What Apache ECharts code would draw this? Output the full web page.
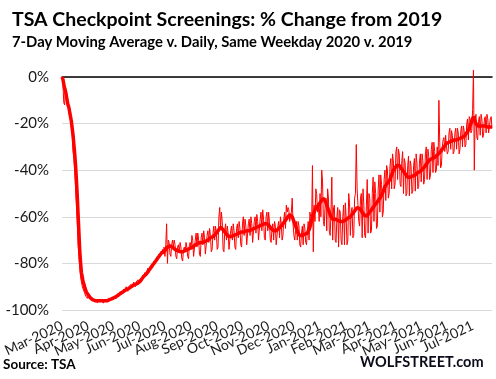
<!DOCTYPE html>
<html><head><meta charset="utf-8">
<script src="https://cdn.jsdelivr.net/npm/echarts@6/dist/echarts.min.js"></script>
<style>html,body{margin:0;padding:0;background:#fff}#c{width:496px;height:379px}</style>
</head><body><div id="c"></div>
<script>
// Dates: daily from 2020-03-01 to 2021-07-25
const startDate = [2020, 2, 1];
const monthNames = ['Jan','Feb','Mar','Apr','May','Jun','Jul','Aug','Sep','Oct','Nov','Dec'];
const yTicks = [-100, -80, -60, -40, -20, 0];

// Daily % change vs same weekday 2019 (thin line), by month
const dMar20 = [0,-3,-11,-12,-4,-6,-8,-11,-15,-17,-18,-22,-24,-32,-35,-40,-48,-55,-62,-72,-77,-82,-86,-88,-90,-91,-92,-93,-94,-94,-95];
const dApr20 = [-94,-95,-95,-95,-96,-96,-96,-96,-96,-96,-96,-97,-96,-96,-96,-96,-96,-96,-97,-96,-96,-96,-96,-96,-95,-95,-95,-95,-95,-95];
const dMay20 = [-95,-94,-94,-95,-94,-93,-93,-94,-92,-92,-93,-92,-91,-92,-91,-90,-91,-92,-90,-90,-90,-89,-90,-89,-88,-89,-90,-88,-88,-87,-88];
const dJun20 = [-87,-88,-87,-86,-85,-86,-84,-84,-85,-83,-82,-84,-82,-81,-82,-80,-81,-79,-80,-78,-79,-77,-78,-76,-77,-75,-76,-74,-76,-73];
const dJul20 = [-77,-72,-63,-80,-70,-71,-76,-77,-72,-70,-73,-70,-72,-77,-78,-73,-72,-75,-71,-73,-78,-79,-74,-73,-75,-71,-73,-77,-78,-72,-71];
const dAug20 = [-74,-68,-70,-77,-77,-70,-67,-73,-67,-70,-76,-77,-69,-67,-72,-66,-69,-76,-76,-68,-66,-71,-65,-68,-75,-74,-67,-64,-70,-64,-67];
const dSep20 = [-74,-73,-60,-56,-65,-58,-62,-74,-75,-66,-63,-70,-64,-67,-74,-74,-66,-64,-70,-63,-66,-73,-74,-65,-63,-69,-62,-65,-72,-73];
const dOct20 = [-63,-60,-68,-61,-64,-72,-72,-63,-61,-68,-60,-63,-71,-71,-62,-60,-67,-59,-62,-70,-70,-61,-58,-66,-57,-61,-69,-70,-60,-58,-66];
const dNov20 = [-58,-62,-70,-71,-65,-63,-70,-62,-64,-72,-72,-64,-62,-69,-60,-63,-70,-68,-61,-58,-65,-55,-58,-56,-57,-62,-62,-58,-52,-63];
const dDec20 = [-68,-70,-66,-62,-70,-62,-64,-72,-73,-67,-64,-72,-63,-65,-71,-72,-66,-62,-70,-58,-60,-64,-38,-75,-55,-62,-48,-50,-58,-55,-62];
const dJan21 = [-50,-60,-40,-45,-62,-64,-55,-52,-66,-48,-52,-66,-68,-58,-43,-70,-56,-55,-70,-71,-60,-56,-73,-57,-58,-70,-72,-60,-55,-72,-54];
const dFeb21 = [-60,-72,-70,-50,-54,-68,-58,-56,-69,-68,-52,-50,-29,-48,-55,-62,-64,-52,-50,-69,-48,-55,-68,-69,-55,-44,-67,-50];
const dMar21 = [-52,-67,-66,-50,-43,-62,-45,-50,-65,-64,-48,-42,-58,-42,-46,-60,-58,-44,-40,-53,-38,-40,-52,-50,-38,-35,-48,-33,-36,-48,-46];
const dApr21 = [-32,-30,-44,-31,-33,-46,-47,-36,-32,-50,-35,-37,-51,-50,-38,-34,-51,-36,-38,-50,-49,-38,-35,-49,-33,-37,-48,-47,-36,-33];
const dMay21 = [-45,-33,-36,-46,-44,-33,-30,-44,-31,-34,-44,-42,-31,-28,-41,-28,-32,-41,-40,-30,-38,-10,-28,-39,-38,-30,-27,-26,-32,-25,-30];
const dJun21 = [-33,-32,-24,-22,-31,-23,-25,-33,-32,-24,-22,-31,-22,-24,-33,-31,-23,-21,-30,-21,-23,-30,-29,-20,-18,-27,-17,-18,-24,-23];
const dJul21 = [-14,3,-40,-18,-16,-26,-27,-19,-17,-25,-16,-18,-26,-25,-18,-17,-24,-16,-18,-24,-24,-18,-17,-22];

// 7-day moving average (thick line), by month
const maMar20 = [0,-1,-3,-5,-6,-8,-10,-12,-13,-15,-17,-19,-22,-25,-29,-33,-38,-44,-51,-59,-67,-75,-80,-84,-86,-88,-89,-90.5,-91.5,-92.5,-93];
const maApr20 = [-93.5,-94,-94.5,-95,-95,-95.5,-95.5,-95.5,-96,-96,-96,-96,-96,-96,-96,-96,-96,-96,-96,-96,-96,-96,-96,-96,-96,-95.5,-95.5,-95.5,-95.5,-95];
const maMay20 = [-95,-94.8,-94.5,-94.3,-94,-93.8,-93.5,-93.3,-93,-92.8,-92.5,-92.3,-92,-91.8,-91.5,-91.3,-91,-91,-90.8,-90.5,-90.3,-90,-89.8,-89.5,-89.3,-89,-89,-88.8,-88.7,-88.5,-88.3];
const maJun20 = [-88,-87.5,-87,-86.5,-86,-85.5,-85,-84.8,-84.5,-84,-83.5,-83,-82.5,-82,-81.5,-81,-80.5,-80,-79.5,-79,-78.5,-78,-77.5,-77,-76.5,-76,-75.5,-75.5,-75,-75];
const maJul20 = [-74.5,-74,-73.5,-73,-72.5,-72.5,-72.5,-73,-73,-73,-73.5,-73.5,-74,-74,-74,-74.5,-74.5,-75,-75,-75,-75,-75,-74.5,-74.5,-74.5,-74,-74,-74,-74,-73.5,-73.5];
const maAug20 = [-73.5,-73,-73,-72.5,-72.5,-72,-72,-72,-71.5,-71.5,-71.5,-71,-71,-71,-71,-70.5,-70.5,-70.5,-70,-70,-70,-69.5,-69.5,-69,-69,-68.5,-68.5,-68,-68,-67.5,-67];
const maSep20 = [-66.5,-66,-65.5,-65,-64.5,-64.5,-65,-65.5,-66,-66.5,-67,-67.5,-68,-68,-68.5,-68.5,-68.5,-68.5,-68,-68,-68,-67.5,-67.5,-67.5,-67,-67,-67,-67,-66.5,-66.5];
const maOct20 = [-66.5,-66.5,-66.5,-66.5,-66,-66,-66,-66,-66,-65.5,-65.5,-65.5,-65,-65,-65,-65,-64.5,-64.5,-64.5,-64,-64,-63.5,-63.5,-63.5,-63,-63,-63,-63,-63,-63,-63];
const maNov20 = [-63.5,-64,-64.5,-65,-65.5,-65.5,-66,-66,-66,-66,-65.5,-65.5,-65,-65,-64.5,-64,-63.5,-63,-62.5,-62,-61.5,-61,-60.5,-60,-59.5,-59,-59,-59.5,-60,-61];
const maDec20 = [-62,-63,-64,-65,-66,-67,-67.5,-68,-68,-68,-68,-68,-67.5,-67.5,-67,-67,-67,-66.5,-65.5,-64.5,-63,-61.5,-60,-59,-58,-57,-56.5,-56,-55.5,-55,-54.5];
const maJan21 = [-54,-53.5,-53,-52.5,-52,-52.5,-53,-54,-55,-56,-57,-58,-59,-60,-60.5,-61,-61,-61,-61,-61,-61.5,-61.5,-62,-62,-62,-62,-62,-62,-62,-62,-61.5];
const maFeb21 = [-61,-61,-60.5,-60.5,-60,-60,-59.5,-59,-58.5,-58,-57.5,-57,-56.5,-56,-56,-56,-56.5,-57,-57.5,-58,-58.5,-59,-59.5,-60,-60,-59.5,-59,-58.5];
const maMar21 = [-58,-57.5,-57,-56.5,-56,-55.5,-55,-54.5,-54,-53.5,-53,-52.5,-52,-51.5,-51,-50,-49,-48,-47,-46.5,-46,-45.5,-45,-44.5,-44,-43,-42,-41,-40,-39.5,-39];
const maApr21 = [-38.5,-38,-37.5,-37.5,-38,-38.5,-39,-39.5,-40,-40.5,-41,-41.5,-42,-42.5,-43,-43,-43,-43,-43,-43,-42.5,-42.5,-42,-42,-41.5,-41.5,-41,-41,-40.5,-40.5];
const maMay21 = [-40.5,-40,-39.5,-39,-38.5,-38,-37.5,-37,-36.5,-36,-35.5,-35.5,-35,-35,-35,-34.5,-34.5,-34,-34,-33.5,-33.5,-33,-32.5,-32,-31.5,-31,-30.5,-30,-29.5,-29,-28.5];
const maJun21 = [-28.5,-28.5,-28,-28,-28,-27.5,-27.5,-27.5,-27,-27,-27,-27,-27,-26.5,-26.5,-26.5,-26.5,-26,-26,-26,-25.5,-25,-24.5,-24,-23.5,-23,-22,-21,-20,-19.5];
const maJul21 = [-18,-17,-17.5,-19,-20,-20.5,-21,-21,-21,-21,-21,-21,-21,-21,-21,-21,-21,-21,-21.5,-21.5,-21.5,-21.5,-21.5,-21.5];

const daily = [].concat(dMar20,dApr20,dMay20,dJun20,dJul20,dAug20,dSep20,dOct20,dNov20,dDec20,dJan21,dFeb21,dMar21,dApr21,dMay21,dJun21,dJul21);
const movingAvg = [].concat(maMar20,maApr20,maMay20,maJun20,maJul20,maAug20,maSep20,maOct20,maNov20,maDec20,maJan21,maFeb21,maMar21,maApr21,maMay21,maJun21,maJul21);

const categories = [];
for (let i = 0; i < daily.length; i++) {
  const d = new Date(startDate[0], startDate[1], startDate[2] + i);
  categories.push(d.getFullYear() + '-' + (d.getMonth() + 1) + '-' + d.getDate());
}

const FONT = 'Lato';
const chart = echarts.init(document.getElementById('c'), null, {renderer: 'canvas'});
chart.setOption({
  animation: false,
  backgroundColor: '#fff',
  grid: {left: 51, right: 4, top: 77, bottom: 69, containLabel: false},
  xAxis: [{
    type: 'category', data: categories, boundaryGap: false, position: 'bottom',
    axisLine: {show: false}, axisTick: {show: false}, splitLine: {show: false},
    axisLabel: {
      rotate: 25, margin: 15, color: '#1a1a1a', fontFamily: FONT, fontSize: 14,
      interval: 0, hideOverlap: false,
      formatter: function (val) {
        const p = val.split('-');
        return p[2] === '1' ? monthNames[+p[1] - 1] + '-' + p[0] : '';
      }
    }
  }, {
    type: 'category', data: categories, boundaryGap: false, position: 'top',
    axisLine: {show: true, lineStyle: {color: '#000', width: 1.5}},
    axisTick: {show: false}, axisLabel: {show: false}, splitLine: {show: false}
  }],
  yAxis: {
    type: 'value', min: yTicks[0], max: yTicks[yTicks.length - 1], interval: 20,
    axisLine: {show: false}, axisTick: {show: false},
    splitLine: {lineStyle: {color: '#d9d9d9', width: 1}},
    axisLabel: {formatter: '{value}%', color: '#1a1a1a', fontFamily: FONT, fontSize: 15, margin: 13}
  },
  series: [{
    name: 'Daily', type: 'line', data: daily, xAxisIndex: 0, showSymbol: false, clip: false,
    lineStyle: {color: '#ff0000', width: 1}, z: 2
  }, {
    name: '7-Day Moving Average', type: 'line', data: movingAvg, xAxisIndex: 0, showSymbol: false,
    lineStyle: {color: '#ff0000', width: 3.5}, z: 3
  }],
  graphic: [
    {type: 'text', left: 12, top: 10, style: {text: 'TSA Checkpoint Screenings: % Change from 2019', font: 'bold 19.5px ' + FONT, fill: '#000'}},
    {type: 'text', left: 12, top: 35, style: {text: '7-Day Moving Average v. Daily, Same Weekday 2020 v. 2019', font: 'bold 14.8px ' + FONT, fill: '#000'}},
    {type: 'text', left: 3, top: 358, style: {text: 'Source: TSA', font: 'bold 13.5px ' + FONT, fill: '#000'}},
    {type: 'text', left: 360, top: 355, style: {text: 'WOLFSTREET.com', font: 'bold 14.5px ' + FONT, fill: '#0b0b1a'}}
  ]
});
</script></body></html>
